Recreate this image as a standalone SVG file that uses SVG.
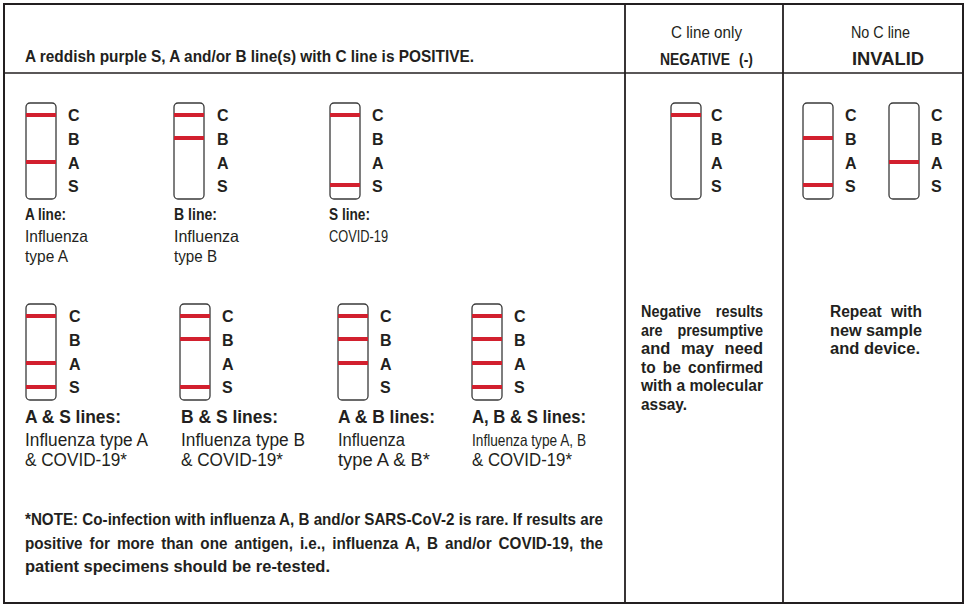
<svg xmlns="http://www.w3.org/2000/svg" xmlns:xlink="http://www.w3.org/1999/xlink" width="967" height="606" viewBox="0 0 967 606">
<style>
.b{font-family:"Liberation Sans",Arial,sans-serif;font-weight:bold;fill:#231f20}
.r{font-family:"Liberation Sans",Arial,sans-serif;fill:#231f20}
.l{font-family:"Liberation Sans",Arial,sans-serif;font-weight:bold;font-size:16px;fill:#231f20}
.grid{stroke:#231f20;fill:none}
.strip{fill:#fff;stroke:#3a3a3a;stroke-width:1.3}
.band{fill:#d2202e}
</style>
<defs>
<rect id="strip" width="30" height="96" rx="4" class="strip"/>
<rect id="band" width="30" height="4" class="band"/>
</defs>
<rect width="967" height="606" fill="#fff"/>
<g id="connectors" class="grid">
<rect x="4" y="4" width="959" height="599" stroke-width="2"/>
<line x1="4" y1="73" x2="963" y2="73" stroke-width="1.5"/>
<line x1="625" y1="4" x2="625" y2="603" stroke-width="1.8"/>
<line x1="783" y1="4" x2="783" y2="603" stroke-width="1.8"/>
</g>
<g id="header">
<text class="b" x="25" y="62" font-size="17" textLength="449" lengthAdjust="spacingAndGlyphs">A reddish purple S, A and/or B line(s) with C line is POSITIVE.</text>
<text class="r" x="671" y="38" font-size="16" textLength="71" lengthAdjust="spacingAndGlyphs">C line only</text>
<text class="b" x="660" y="65" font-size="16" word-spacing="6" textLength="93" lengthAdjust="spacingAndGlyphs">NEGATIVE (-)</text>
<text class="r" x="851" y="38" font-size="16" textLength="59" lengthAdjust="spacingAndGlyphs">No C line</text>
<text class="b" x="852" y="65" font-size="18" textLength="72" lengthAdjust="spacingAndGlyphs">INVALID</text>
</g>
<g id="strip-a">
<use xlink:href="#strip" x="26" y="103"/>
<use xlink:href="#band" x="26" y="113"/>
<use xlink:href="#band" x="26" y="160"/>
<text class="l" x="68" y="121">C</text><text class="l" x="68" y="145">B</text><text class="l" x="68" y="169">A</text><text class="l" x="68" y="192">S</text>
<text class="b" x="25" y="220" font-size="16.5" textLength="41" lengthAdjust="spacingAndGlyphs">A line:</text>
<text class="r" x="25" y="242" font-size="16.5" textLength="63" lengthAdjust="spacingAndGlyphs">Influenza</text>
<text class="r" x="25" y="262" font-size="16.5" textLength="43" lengthAdjust="spacingAndGlyphs">type A</text>
</g>
<g id="strip-b">
<use xlink:href="#strip" x="174" y="103"/>
<use xlink:href="#band" x="174" y="113"/>
<use xlink:href="#band" x="174" y="136"/>
<text class="l" x="217" y="121">C</text><text class="l" x="217" y="145">B</text><text class="l" x="217" y="169">A</text><text class="l" x="217" y="192">S</text>
<text class="b" x="174" y="220" font-size="16.5" textLength="43" lengthAdjust="spacingAndGlyphs">B line:</text>
<text class="r" x="174" y="242" font-size="16.5" textLength="65" lengthAdjust="spacingAndGlyphs">Influenza</text>
<text class="r" x="174" y="262" font-size="16.5" textLength="43" lengthAdjust="spacingAndGlyphs">type B</text>
</g>
<g id="strip-s">
<use xlink:href="#strip" x="330" y="103"/>
<use xlink:href="#band" x="330" y="113"/>
<use xlink:href="#band" x="330" y="183"/>
<text class="l" x="372" y="121">C</text><text class="l" x="372" y="145">B</text><text class="l" x="372" y="169">A</text><text class="l" x="372" y="192">S</text>
<text class="b" x="329" y="220" font-size="16.5" textLength="41" lengthAdjust="spacingAndGlyphs">S line:</text>
<text class="r" x="329" y="242" font-size="16.5" textLength="59" lengthAdjust="spacingAndGlyphs">COVID-19</text>
</g>
<g id="strip-as">
<use xlink:href="#strip" x="26" y="304"/>
<use xlink:href="#band" x="26" y="314"/>
<use xlink:href="#band" x="26" y="361"/>
<use xlink:href="#band" x="26" y="385"/>
<text class="l" x="69" y="322">C</text><text class="l" x="69" y="346">B</text><text class="l" x="69" y="370">A</text><text class="l" x="69" y="393">S</text>
<text class="b" x="25" y="423" font-size="17.5" textLength="96" lengthAdjust="spacingAndGlyphs">A &amp; S lines:</text>
<text class="r" x="25" y="446" font-size="17.5" textLength="123" lengthAdjust="spacingAndGlyphs">Influenza type A</text>
<text class="r" x="25" y="466" font-size="17.5" textLength="102" lengthAdjust="spacingAndGlyphs">&amp; COVID-19*</text>
</g>
<g id="strip-bs">
<use xlink:href="#strip" x="180" y="304"/>
<use xlink:href="#band" x="180" y="314"/>
<use xlink:href="#band" x="180" y="337"/>
<use xlink:href="#band" x="180" y="385"/>
<text class="l" x="222" y="322">C</text><text class="l" x="222" y="346">B</text><text class="l" x="222" y="370">A</text><text class="l" x="222" y="393">S</text>
<text class="b" x="181" y="423" font-size="17.5" textLength="97" lengthAdjust="spacingAndGlyphs">B &amp; S lines:</text>
<text class="r" x="181" y="446" font-size="17.5" textLength="124" lengthAdjust="spacingAndGlyphs">Influenza type B</text>
<text class="r" x="181" y="466" font-size="17.5" textLength="102" lengthAdjust="spacingAndGlyphs">&amp; COVID-19*</text>
</g>
<g id="strip-ab">
<use xlink:href="#strip" x="338" y="304"/>
<use xlink:href="#band" x="338" y="314"/>
<use xlink:href="#band" x="338" y="337"/>
<use xlink:href="#band" x="338" y="361"/>
<text class="l" x="380" y="322">C</text><text class="l" x="380" y="346">B</text><text class="l" x="380" y="370">A</text><text class="l" x="380" y="393">S</text>
<text class="b" x="338" y="423" font-size="17.5" textLength="97" lengthAdjust="spacingAndGlyphs">A &amp; B lines:</text>
<text class="r" x="338" y="446" font-size="17.5" textLength="67" lengthAdjust="spacingAndGlyphs">Influenza</text>
<text class="r" x="338" y="466" font-size="17.5" textLength="92" lengthAdjust="spacingAndGlyphs">type A &amp; B*</text>
</g>
<g id="strip-abs">
<use xlink:href="#strip" x="472" y="304"/>
<use xlink:href="#band" x="472" y="314"/>
<use xlink:href="#band" x="472" y="337"/>
<use xlink:href="#band" x="472" y="361"/>
<use xlink:href="#band" x="472" y="385"/>
<text class="l" x="514" y="322">C</text><text class="l" x="514" y="346">B</text><text class="l" x="514" y="370">A</text><text class="l" x="514" y="393">S</text>
<text class="b" x="472" y="423" font-size="17.5" textLength="114" lengthAdjust="spacingAndGlyphs">A, B &amp; S lines:</text>
<text class="r" x="472" y="446" font-size="16.5" textLength="114" lengthAdjust="spacingAndGlyphs">Influenza type A, B</text>
<text class="r" x="472" y="466" font-size="17.5" textLength="100" lengthAdjust="spacingAndGlyphs">&amp; COVID-19*</text>
</g>
<g id="note">
<text class="b" x="25" y="525" font-size="16.5" textLength="578" lengthAdjust="spacingAndGlyphs">*NOTE: Co-infection with influenza A, B and/or SARS-CoV-2 is rare. If results are</text>
<text class="b" x="25" y="549" font-size="16.5" word-spacing="3" textLength="578" lengthAdjust="spacingAndGlyphs">positive for more than one antigen, i.e., influenza A, B and/or COVID-19, the</text>
<text class="b" x="25" y="572" font-size="16.5" textLength="305" lengthAdjust="spacingAndGlyphs">patient specimens should be re-tested.</text>
</g>
<g id="negative">
<use xlink:href="#strip" x="671" y="103"/>
<use xlink:href="#band" x="671" y="113"/>
<text class="l" x="711" y="121">C</text><text class="l" x="711" y="145">B</text><text class="l" x="711" y="169">A</text><text class="l" x="711" y="192">S</text>
<text class="b" x="641" y="317" font-size="16" word-spacing="12" textLength="122" lengthAdjust="spacingAndGlyphs">Negative results</text>
<text class="b" x="641" y="336" font-size="16" word-spacing="12" textLength="122" lengthAdjust="spacingAndGlyphs">are presumptive</text>
<text class="b" x="641" y="354" font-size="16" word-spacing="6" textLength="122" lengthAdjust="spacingAndGlyphs">and may need</text>
<text class="b" x="641" y="373" font-size="16" word-spacing="3" textLength="122" lengthAdjust="spacingAndGlyphs">to be confirmed</text>
<text class="b" x="641" y="391" font-size="16" textLength="122" lengthAdjust="spacingAndGlyphs">with a molecular</text>
<text class="b" x="641" y="410" font-size="16" textLength="46" lengthAdjust="spacingAndGlyphs">assay.</text>
</g>
<g id="invalid">
<use xlink:href="#strip" x="803" y="103"/>
<use xlink:href="#band" x="803" y="136"/>
<use xlink:href="#band" x="803" y="183"/>
<text class="l" x="845" y="121">C</text><text class="l" x="845" y="145">B</text><text class="l" x="845" y="169">A</text><text class="l" x="845" y="192">S</text>
<use xlink:href="#strip" x="889" y="103"/>
<use xlink:href="#band" x="889" y="160"/>
<text class="l" x="931" y="121">C</text><text class="l" x="931" y="145">B</text><text class="l" x="931" y="169">A</text><text class="l" x="931" y="192">S</text>
<text class="b" x="830" y="317" font-size="16" word-spacing="5" textLength="92" lengthAdjust="spacingAndGlyphs">Repeat with</text>
<text class="b" x="830" y="336" font-size="16" textLength="92" lengthAdjust="spacingAndGlyphs">new sample</text>
<text class="b" x="830" y="354" font-size="16" textLength="90" lengthAdjust="spacingAndGlyphs">and device.</text>
</g>
</svg>
